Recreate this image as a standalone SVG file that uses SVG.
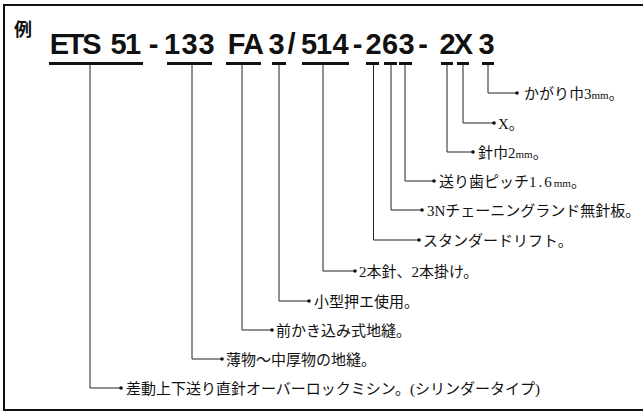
<svg xmlns="http://www.w3.org/2000/svg" width="643" height="412" viewBox="0 0 643 412">
<defs>
<style>
.frame{stroke:#111;stroke-width:2;fill:none}
.ul{fill:#111}
.ld{stroke:#222;stroke-width:1;fill:none;marker-end:url(#dot)}
.code{font-family:"Liberation Sans",Arial,sans-serif;font-weight:bold;font-size:29px;fill:#111;text-anchor:middle}
.lbl{font-family:"Liberation Serif","Noto Sans CJK JP",serif;font-size:15px;fill:#111}
.mm{font-size:11px}
.wide{letter-spacing:2px}
.rei{font-family:"Noto Sans CJK JP",sans-serif;font-weight:bold;font-size:18px;fill:#111}
</style>
<marker id="dot" viewBox="0 0 6 6" refX="3" refY="3" markerWidth="6" markerHeight="6" markerUnits="userSpaceOnUse">
<circle cx="3" cy="3" r="1.8" fill="#111"/>
</marker>
</defs>
<rect width="643" height="412" fill="#fff"/>
<g id="frame">
<path class="frame" d="M643 5 H4 V410 H643"/>
</g>
<g id="title">
<text class="rei" x="14" y="36">例</text>
<text class="code" x="59.5 75.5 92 118.5 133 153.5 172 189.5 206.5 236.5 253.5 276.5 291.5 309 324 340.5 357.5 373.5 390 406.5 423 447.5 463.5 486.5" y="54">ETS51-133FA3/514-263-2X3</text>
</g>
<g id="underlines" class="ul">
<rect x="49" y="62" width="94" height="3"/>
<rect x="167" y="62" width="45" height="3"/>
<rect x="226" y="62" width="35" height="3"/>
<rect x="272" y="62" width="14" height="3"/>
<rect x="302" y="62" width="47" height="3"/>
<rect x="366" y="62" width="13" height="3"/>
<rect x="384" y="62" width="13" height="3"/>
<rect x="399" y="62" width="13" height="3"/>
<rect x="441" y="62" width="12" height="3"/>
<rect x="457" y="62" width="12" height="3"/>
<rect x="482" y="62" width="12" height="3"/>
</g>
<g id="connectors">
<path class="ld" d="M488 65 V93 H517"/>
<path class="ld" d="M463 65 V123 H494"/>
<path class="ld" d="M447 65 V152 H473"/>
<path class="ld" d="M405 65 V181 H434"/>
<path class="ld" d="M391 65 V210 H422"/>
<path class="ld" d="M373.5 65 V240 H419"/>
<path class="ld" d="M323 65 V271 H355"/>
<path class="ld" d="M279 65 V301 H309"/>
<path class="ld" d="M242 65 V330 H272"/>
<path class="ld" d="M192 65 V359 H222"/>
<path class="ld" d="M90 65 V388 H121"/>
</g>
<g id="label-3">
<text class="lbl" x="524" y="98.5">かがり巾3<tspan class="mm">mm</tspan>。</text>
</g>
<g id="label-X">
<text class="lbl" x="498" y="128.5">X。</text>
</g>
<g id="label-2">
<text class="lbl" x="478" y="157.5">針巾2<tspan class="mm">mm</tspan>。</text>
</g>
<g id="label-263-3">
<text class="lbl" x="439" y="186.5">送り歯ピッチ<tspan class="wide">1.6</tspan><tspan class="mm">mm</tspan>。</text>
</g>
<g id="label-263-6">
<text class="lbl" x="427" y="215.5">3Nチェーニングランド無針板。</text>
</g>
<g id="label-263-2">
<text class="lbl" x="423" y="245.5">スタンダードリフト。</text>
</g>
<g id="label-514">
<text class="lbl" x="359" y="276.5">2本針、2本掛け。</text>
</g>
<g id="label-3b">
<text class="lbl" x="314" y="306.5">小型押エ使用。</text>
</g>
<g id="label-FA">
<text class="lbl" x="276" y="335.5">前かき込み式地縫。</text>
</g>
<g id="label-133">
<text class="lbl" x="226" y="364.5">薄物～中厚物の地縫。</text>
</g>
<g id="label-ETS51">
<text class="lbl" x="126" y="393.5">差動上下送り直針オーバーロックミシン。(シリンダータイプ)</text>
</g>
</svg>
